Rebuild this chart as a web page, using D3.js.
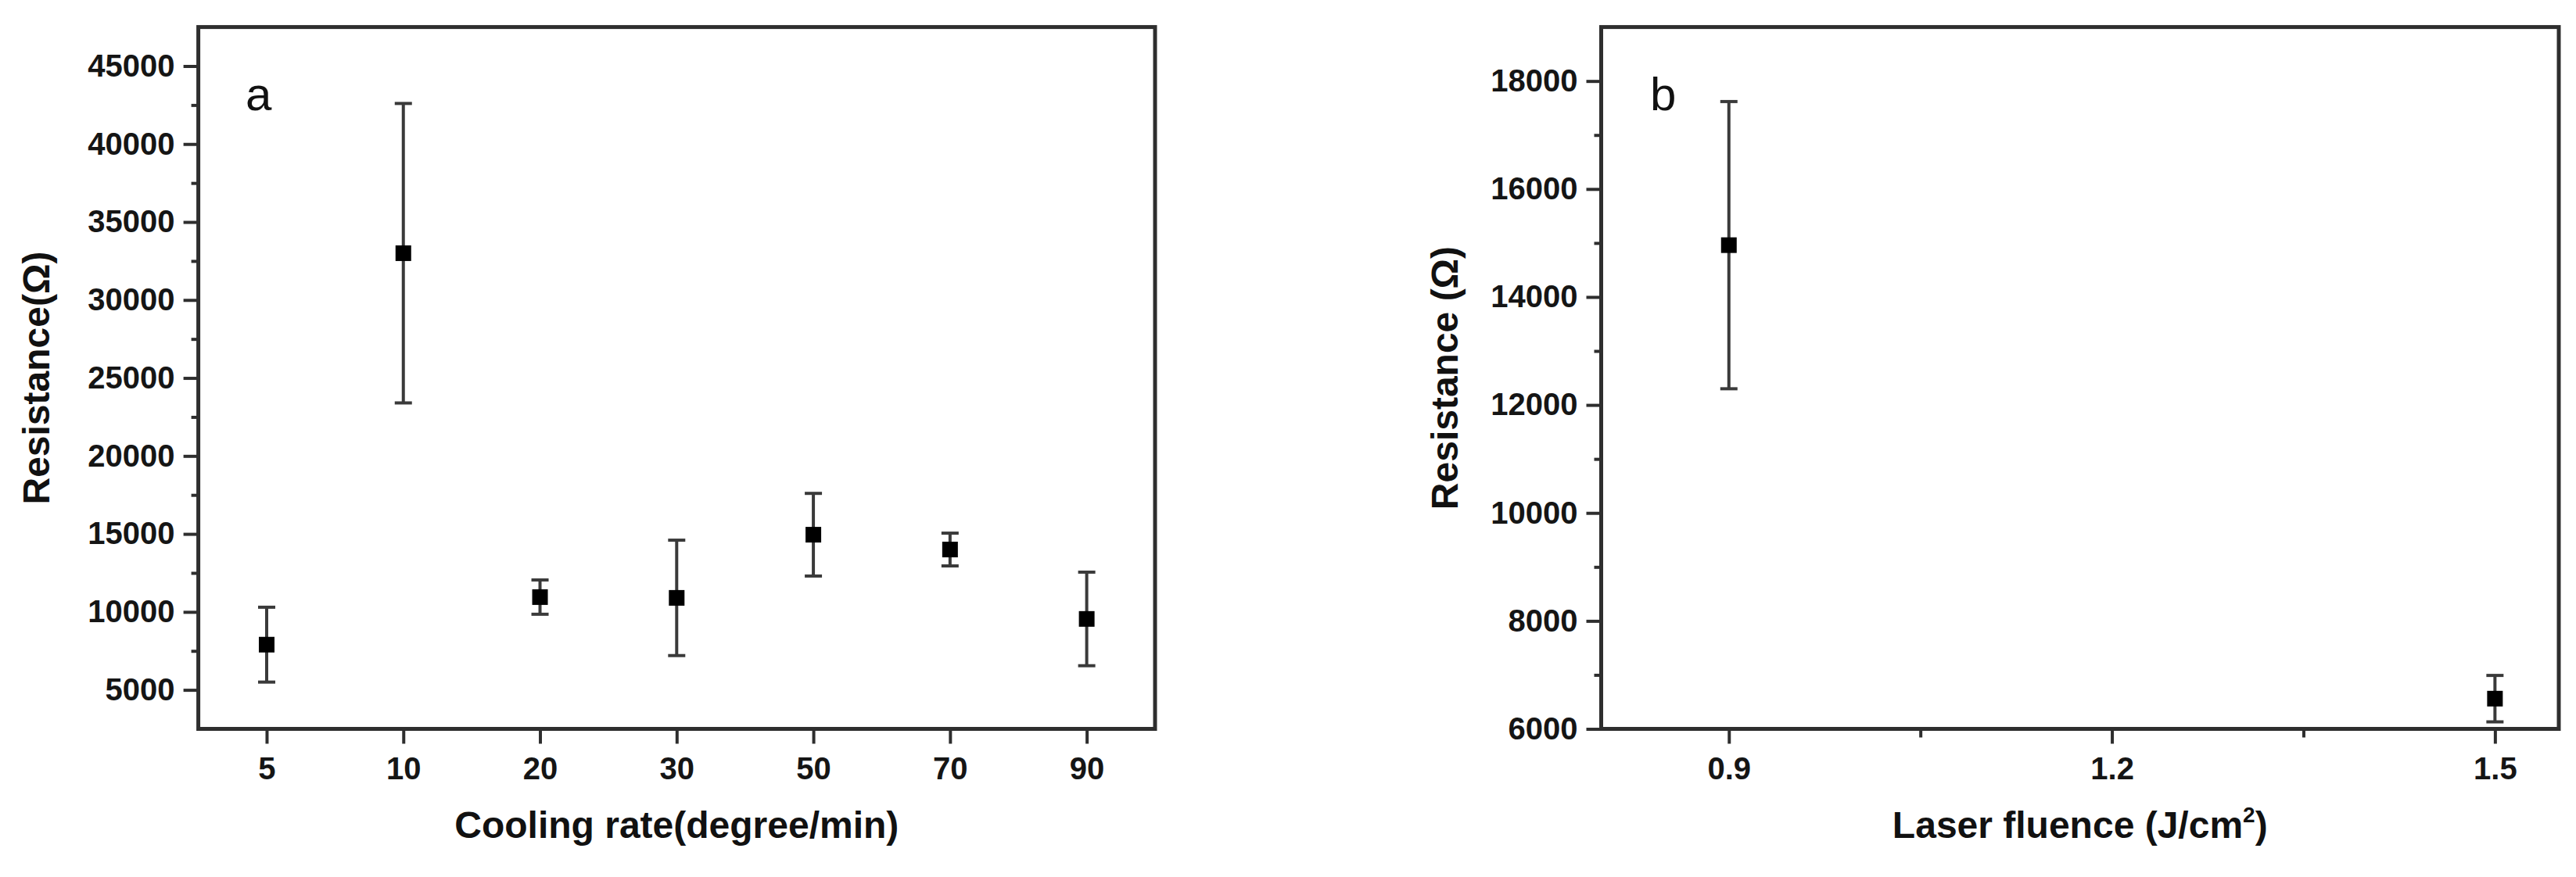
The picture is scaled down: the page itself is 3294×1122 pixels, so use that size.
<!DOCTYPE html>
<html>
<head>
<meta charset="utf-8">
<script src="https://cdn.jsdelivr.net/npm/d3@7"></script>
<style>
  body { margin: 0; background: #fff; }
  svg { display: block; }
  .tick text { font-family: "Liberation Sans", Arial, sans-serif; font-weight: bold; font-size: 40px; fill: #151515; }
  .aText { font-family: "Liberation Sans", Arial, sans-serif; font-weight: bold; font-size: 48px; fill: #111; }
  .panelTag { font-family: "Liberation Sans", Arial, sans-serif; font-size: 60px; fill: #111; }
</style>
</head>
<body>
<div id="chart"></div>
<script>
// Data
var coolingRates = ["5", "10", "20", "30", "50", "70", "90"];
var resistanceA = [7900, 33000, 10950, 10900, 14950, 14000, 9550];
var errorA = [2400, 9600, 1100, 3700, 2650, 1050, 3000];

var fluence = [0.9, 1.5];
var resistanceB = [14960, 6560];
var errorB = [2660, 430];

var yTicksA = [5000, 10000, 15000, 20000, 25000, 30000, 35000, 40000, 45000];
var yMinorA = [7500, 12500, 17500, 22500, 27500, 32500, 37500, 42500];
var yTicksB = [6000, 8000, 10000, 12000, 14000, 16000, 18000];
var yMinorB = [7000, 9000, 11000, 13000, 15000, 17000];
var xTicksB = [0.9, 1.2, 1.5];
var xMinorB = [1.05, 1.35];

// SVG area
var svgWidth = 3294;
var svgHeight = 1122;

var svg = d3.select("#chart")
    .append("svg")
    .attr("width", svgWidth)
    .attr("height", svgHeight);

var plotTop = 34.6, plotBottom = 932.5;
var axisColor = "#2e2e2e";

// Scales
var xA = d3.scalePoint().domain(coolingRates).range([253.6, 1477]).padding(0.5);
var yA = d3.scaleLinear().domain([2500, 47500]).range([plotBottom, plotTop]);
var xB = d3.scaleLinear().domain([0.8, 1.55]).range([2047.5, 3272]);
var yB = d3.scaleLinear().domain([6000, 19000]).range([plotBottom, plotTop]);

function styleAxis(g) {
    g.select(".domain").remove();
    g.selectAll(".tick line").attr("stroke", axisColor).attr("stroke-width", 4);
}

function drawFrame(x0, x1) {
    svg.append("rect")
        .attr("x", x0)
        .attr("y", plotTop)
        .attr("width", x1 - x0)
        .attr("height", plotBottom - plotTop)
        .attr("fill", "none")
        .attr("stroke", axisColor)
        .attr("stroke-width", 5);
}

function drawPoints(pts, xScale, yScale) {
    var g = svg.append("g");
    var cap = 11;
    g.selectAll(".errLine").data(pts).enter().append("line")
        .attr("x1", d => xScale(d.x)).attr("x2", d => xScale(d.x))
        .attr("y1", d => yScale(d.v + d.e)).attr("y2", d => yScale(d.v - d.e))
        .attr("stroke", "#3a3a3a").attr("stroke-width", 4);
    g.selectAll(".capTop").data(pts).enter().append("line")
        .attr("x1", d => xScale(d.x) - cap).attr("x2", d => xScale(d.x) + cap)
        .attr("y1", d => yScale(d.v + d.e)).attr("y2", d => yScale(d.v + d.e))
        .attr("stroke", "#3a3a3a").attr("stroke-width", 4);
    g.selectAll(".capBot").data(pts).enter().append("line")
        .attr("x1", d => xScale(d.x) - cap).attr("x2", d => xScale(d.x) + cap)
        .attr("y1", d => yScale(d.v - d.e)).attr("y2", d => yScale(d.v - d.e))
        .attr("stroke", "#3a3a3a").attr("stroke-width", 4);
    g.selectAll("rect").data(pts).enter().append("rect")
        .attr("x", d => xScale(d.x) - 10)
        .attr("y", d => yScale(d.v) - 10)
        .attr("width", 20).attr("height", 20)
        .attr("fill", "#000");
}

// ---------- Panel a ----------
svg.append("g")
    .attr("transform", `translate(253.6, 0)`)
    .call(d3.axisLeft(yA).tickValues(yMinorA).tickSize(9).tickFormat(""))
    .call(styleAxis);
svg.append("g")
    .attr("transform", `translate(253.6, 0)`)
    .call(d3.axisLeft(yA).tickValues(yTicksA).tickSize(19).tickPadding(11).tickFormat(d3.format("d")))
    .call(styleAxis);
svg.append("g")
    .attr("transform", `translate(0, ${plotBottom})`)
    .call(d3.axisBottom(xA).tickSize(19).tickPadding(17))
    .call(styleAxis);
drawFrame(253.6, 1477);

var ptsA = coolingRates.map((c, i) => ({x: c, v: resistanceA[i], e: errorA[i]}));
drawPoints(ptsA, xA, yA);

svg.append("text").attr("class", "panelTag").attr("x", 314).attr("y", 141).text("a");

svg.append("text")
    .attr("class", "aText")
    .attr("text-anchor", "middle")
    .attr("x", (253.6 + 1477) / 2)
    .attr("y", 1072)
    .text("Cooling rate(degree/min)");

svg.append("text")
    .attr("class", "aText")
    .attr("text-anchor", "middle")
    .attr("transform", `translate(63, ${(plotTop + plotBottom) / 2}) rotate(-90)`)
    .text("Resistance(\u03A9)");

// ---------- Panel b ----------
svg.append("g")
    .attr("transform", `translate(2047.5, 0)`)
    .call(d3.axisLeft(yB).tickValues(yMinorB).tickSize(9).tickFormat(""))
    .call(styleAxis);
svg.append("g")
    .attr("transform", `translate(2047.5, 0)`)
    .call(d3.axisLeft(yB).tickValues(yTicksB).tickSize(19).tickPadding(11).tickFormat(d3.format("d")))
    .call(styleAxis);
svg.append("g")
    .attr("transform", `translate(0, ${plotBottom})`)
    .call(d3.axisBottom(xB).tickValues(xMinorB).tickSize(11).tickFormat(""))
    .call(styleAxis);
svg.append("g")
    .attr("transform", `translate(0, ${plotBottom})`)
    .call(d3.axisBottom(xB).tickValues(xTicksB).tickSize(19).tickPadding(17).tickFormat(d3.format(".1f")))
    .call(styleAxis);
drawFrame(2047.5, 3272);

var ptsB = fluence.map((f, i) => ({x: f, v: resistanceB[i], e: errorB[i]}));
drawPoints(ptsB, xB, yB);

svg.append("text").attr("class", "panelTag").attr("x", 2110).attr("y", 141).text("b");

var xlabB = svg.append("text")
    .attr("class", "aText")
    .attr("text-anchor", "middle")
    .attr("x", (2047.5 + 3272) / 2)
    .attr("y", 1072);
xlabB.append("tspan").text("Laser fluence (J/cm");
xlabB.append("tspan").attr("dy", -20).attr("font-size", "28px").text("2");
xlabB.append("tspan").attr("dy", 20).text(")");

svg.append("text")
    .attr("class", "aText")
    .attr("text-anchor", "middle")
    .attr("transform", `translate(1864, ${(plotTop + plotBottom) / 2}) rotate(-90)`)
    .text("Resistance (\u03A9)");
</script>
</body>
</html>
